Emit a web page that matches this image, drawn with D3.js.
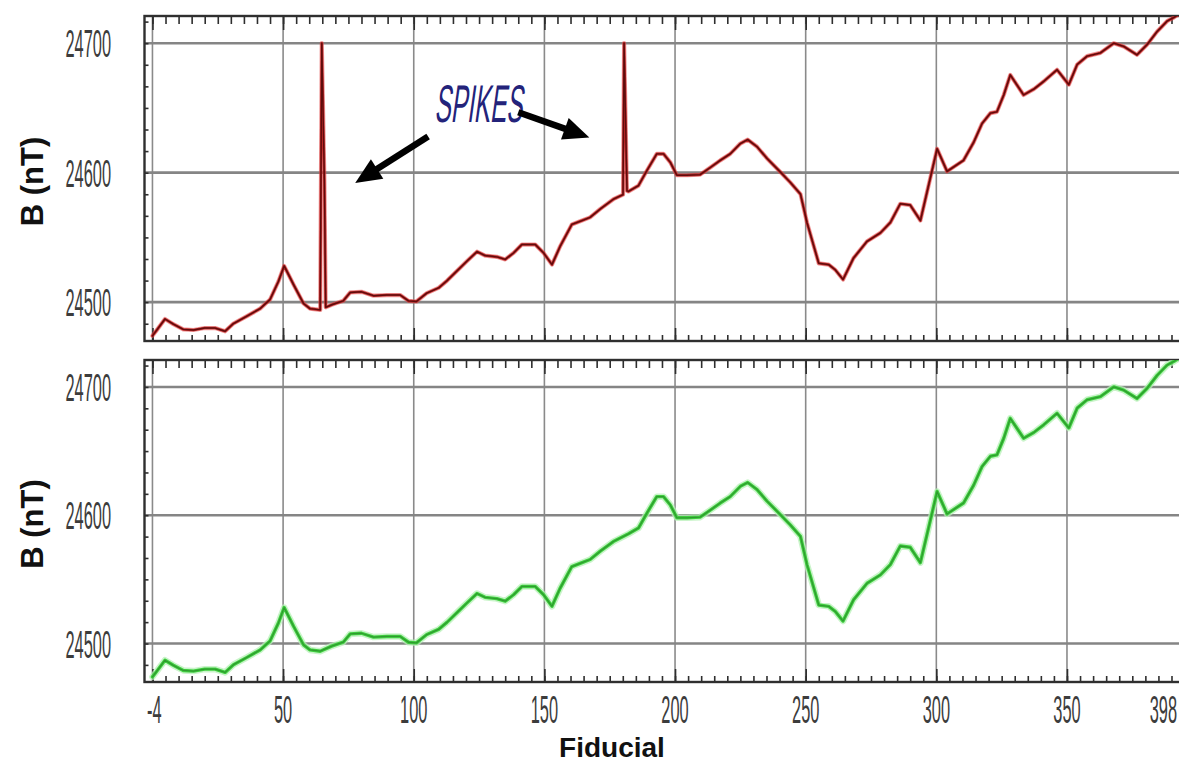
<!DOCTYPE html>
<html>
<head>
<meta charset="utf-8">
<script src="https://cdn.jsdelivr.net/npm/d3@7"></script>
<style>
  html, body { margin: 0; padding: 0; background: #fff; }
  svg { display: block; }
</style>
</head>
<body>
<svg id="chart" width="1179" height="764"></svg>
<script>
// Magnetometer profile: total field B (nT) against fiducial number.
const fiducial = [
  0, 1.5, 4.8, 8, 11.8, 15.7, 20, 24, 27.8, 31, 36, 41.2, 45, 48.2, 50.4, 54, 57.8, 60.3, 64.2,
  68.6, 73, 75.7, 80, 84.6, 89.7, 94.8, 98, 101, 105, 109.5, 112.7, 117, 120.3, 124.2, 127.3,
  131.8, 135, 138.2, 141.4, 146.5, 149.7, 152.9, 156, 160.5, 164.4, 167.5, 171.4, 176.4, 182.2,
  186, 189.2, 193, 195.6, 198.2, 200.7, 204.6, 209.6, 213.5, 217.3, 221.1, 225, 227.8, 231.4,
  235.2, 240.3, 244.1, 248, 250.5, 255, 258.8, 261.3, 264.3, 268.3, 273.5, 278.6, 282.4, 286.2,
  290, 293.9, 300.3, 304.1, 310.4, 314.3, 317.5, 320.7, 323.2, 325.8, 328.3, 333.4, 337.3,
  341.1, 346.2, 350.7, 353.9, 357.7, 362.8, 367.9, 371.7, 376.8, 380.7, 384.5, 388.3, 391, 394
];
const field = [
  24474, 24478, 24487, 24483, 24479, 24478.5, 24480, 24480, 24477.5, 24483.5, 24489, 24495, 24502, 24516, 24528, 24513.5, 24499, 24495, 24494,
  24498, 24501, 24507.5, 24508, 24505, 24505.5, 24505.5, 24501, 24500.5, 24507, 24511, 24516.5, 24525, 24531.5, 24539, 24536,
  24535, 24533, 24538, 24544.5, 24544.5, 24538, 24529, 24543, 24560, 24563, 24565.5, 24572, 24579.5, 24585.5,
  24590, 24601.5, 24614.5, 24614.5, 24608, 24598, 24598, 24598.5, 24604, 24609.5, 24614.5, 24622.5, 24625.5, 24620,
  24611, 24600.5, 24592.5, 24583.5, 24561.5, 24530, 24529, 24525, 24517.5, 24534, 24547, 24553.5, 24561.5, 24576,
  24575, 24563, 24618.5, 24601, 24609.5, 24623.5, 24638, 24646, 24647, 24660, 24675.5, 24660, 24664.5,
  24670.5, 24679.5, 24668, 24683.5, 24690, 24692.5, 24700, 24697.5, 24691, 24699, 24709, 24717, 24720, 24724
];
// Spurious readings present in the raw record only
const spikeFiducial = [64.8, 65.8, 66.3, 180.1, 180.5, 181.6];
const spikeField    = [24700, 24594, 24496, 24583, 24700, 24586];

const xGridValues  = [0, 50, 100, 150, 200, 250, 300, 350];
const xLabelValues = [-4, 50, 100, 150, 200, 250, 300, 350, 398];
const xLabels      = ["-4", "50", "100", "150", "200", "250", "300", "350", "398"];
const yTickValues  = [24500, 24600, 24700];
const yTickLabels  = ["24500", "24600", "24700"];
const yLabel = "B (nT)";
const xLabel = "Fiducial";
const noteText = "SPIKES";
// Arrows from the note to the spikes: [fiducial, nT] tail and tip
const arrowTails = [[105.5, 24628], [140, 24646.7]];
const arrowTips  = [[77.6, 24592], [167.2, 24627.2]];

const W = 1179;
const svg = d3.select("#chart");
const x = d3.scaleLinear().domain([-4, 398]).range([142, 1192.4]);
const yDomain = [24470, 24721];

const rawSeries = fiducial.map((f, i) => ({ f, v: field[i] }))
  .concat(spikeFiducial.map((f, i) => ({ f, v: spikeField[i] })))
  .sort((a, b) => a.f - b.f);
const cleanSeries = fiducial.map((f, i) => ({ f, v: field[i] }));

const minorX = d3.range(0, 400, 5);
const condensed = 0.42;

function numberText(g, px, py, label, anchor) {
  g.append("text")
    .attr("transform", `translate(${px},${py}) scale(${condensed},1)`)
    .attr("text-anchor", anchor)
    .attr("font-family", "Liberation Sans, Arial, sans-serif")
    .attr("font-size", 39)
    .attr("fill", "#3c3c3c")
    .text(label);
}

function drawPanel(id, top, bottom, data, strokes) {
  const y = d3.scaleLinear().domain(yDomain).range([bottom, top]);
  const g = svg.append("g").attr("id", id);
  const left = x(-4) + 2.5, right = x(398);

  g.append("clipPath").attr("id", id + "-clip")
    .append("rect").attr("x", left).attr("y", top).attr("width", right - left).attr("height", bottom - top);

  // grid
  g.selectAll(".vgrid").data(xGridValues).join("line")
    .attr("x1", d => x(d)).attr("x2", d => x(d)).attr("y1", top).attr("y2", bottom)
    .attr("stroke", "#8a8a8a").attr("stroke-width", 1.6);
  g.selectAll(".hgrid").data(yTickValues).join("line")
    .attr("x1", left).attr("x2", right).attr("y1", d => y(d)).attr("y2", d => y(d))
    .attr("stroke", "#858585").attr("stroke-width", 2.6);

  // tick marks along the frame
  const tickStyle = sel => {
    sel.select(".domain").remove();
    sel.selectAll(".tick line").attr("stroke", "#2e2e2e").attr("stroke-width", 1.6);
    sel.selectAll(".tick text").remove();
  };
  g.append("g").attr("transform", `translate(0,${top})`)
    .call(d3.axisTop(x).tickValues(minorX).tickSize(-8)).call(tickStyle);
  g.append("g").attr("transform", `translate(0,${top})`)
    .call(d3.axisTop(x).tickValues(xGridValues).tickSize(-14)).call(tickStyle);
  g.append("g").attr("transform", `translate(0,${bottom})`)
    .call(d3.axisBottom(x).tickValues(minorX).tickSize(-6)).call(tickStyle);
  g.append("g").attr("transform", `translate(0,${bottom})`)
    .call(d3.axisBottom(x).tickValues(xGridValues).tickSize(-13)).call(tickStyle);
  const minorY = d3.range(-1, 14).map(k => 24500 + k * 100 / 6).filter(v => v > yDomain[0] && v < yDomain[1]);
  g.append("g").attr("transform", `translate(${left},0)`)
    .call(d3.axisLeft(y).tickValues(minorY).tickSize(-4)).call(tickStyle);

  // frame
  g.append("rect").attr("x", left).attr("y", top).attr("width", right - left + 10).attr("height", bottom - top)
    .attr("fill", "none").attr("stroke", "#2f2f2f").attr("stroke-width", 2.4);

  // y tick labels
  yTickValues.forEach((v, i) => numberText(g, 111, y(v) + 14, yTickLabels[i], "end"));

  // y axis title
  g.append("text")
    .attr("transform", `translate(43,${(top + bottom) / 2 + 3}) rotate(-90)`)
    .attr("text-anchor", "middle")
    .attr("font-family", "Liberation Sans, Arial, sans-serif")
    .attr("font-weight", "bold").attr("font-size", 31).attr("fill", "#111")
    .text(yLabel);

  // profile line
  const line = d3.line().x(d => x(d.f)).y(d => y(d.v));
  const lg = g.append("g").attr("clip-path", `url(#${id}-clip)`);
  strokes.forEach(s => {
    lg.append("path").datum(data).attr("d", line)
      .attr("fill", "none").attr("stroke", s.color).attr("stroke-width", s.width)
      .attr("stroke-opacity", s.opacity).attr("stroke-linejoin", "round").attr("stroke-linecap", "round");
  });
  return y;
}

const yTop = drawPanel("raw", 16, 341, rawSeries, [
  { color: "#e04848", width: 4.2, opacity: 0.55 },
  { color: "#b81c1c", width: 2.6, opacity: 0.9 },
  { color: "#5e0c0c", width: 1.4, opacity: 1 }
]);
drawPanel("clean", 360, 682, cleanSeries, [
  { color: "#b8f0b8", width: 6.5, opacity: 0.75 },
  { color: "#3fcf3f", width: 3.4, opacity: 1 },
  { color: "#2f9a2f", width: 1.3, opacity: 1 }
]);

// x tick labels under the lower panel; end labels sit inside the frame
const xl = svg.append("g");
xLabelValues.forEach((v, i) => {
  const last = i === xLabelValues.length - 1;
  const anchor = i === 0 ? "start" : (last ? "end" : "middle");
  const px = i === 0 ? x(v) + 5 : (last ? Math.min(x(v) - 5, W - 2) : x(v));
  numberText(xl, px, 723, xLabels[i], anchor);
});
svg.append("text")
  .attr("x", 612).attr("y", 757)
  .attr("text-anchor", "middle")
  .attr("font-family", "Liberation Sans, Arial, sans-serif")
  .attr("font-weight", "bold").attr("font-size", 28).attr("fill", "#111")
  .text(xLabel);

// annotation
svg.append("text")
  .attr("transform", `translate(${x(124.7)},${yTop(24639)}) skewX(-8) scale(0.46,1)`)
  .attr("text-anchor", "middle")
  .attr("font-family", "Liberation Sans, Arial, sans-serif")
  .attr("font-size", 53).attr("fill", "#23237a")
  .text(noteText);

arrowTails.forEach((t, i) => {
  const x1 = x(t[0]), y1 = yTop(t[1]);
  const x2 = x(arrowTips[i][0]), y2 = yTop(arrowTips[i][1]);
  const dx = x2 - x1, dy = y2 - y1, len = Math.hypot(dx, dy);
  const ux = dx / len, uy = dy / len;
  const headLen = 26, headHalf = 11.5;
  const bx = x2 - ux * headLen, by = y2 - uy * headLen;
  svg.append("line")
    .attr("x1", x1).attr("y1", y1).attr("x2", bx + ux * 2).attr("y2", by + uy * 2)
    .attr("stroke", "#000").attr("stroke-width", 6.5);
  svg.append("path")
    .attr("d", `M${x2},${y2} L${bx - uy * headHalf},${by + ux * headHalf} L${bx + uy * headHalf},${by - ux * headHalf} Z`)
    .attr("fill", "#000");
});
</script>
</body>
</html>
